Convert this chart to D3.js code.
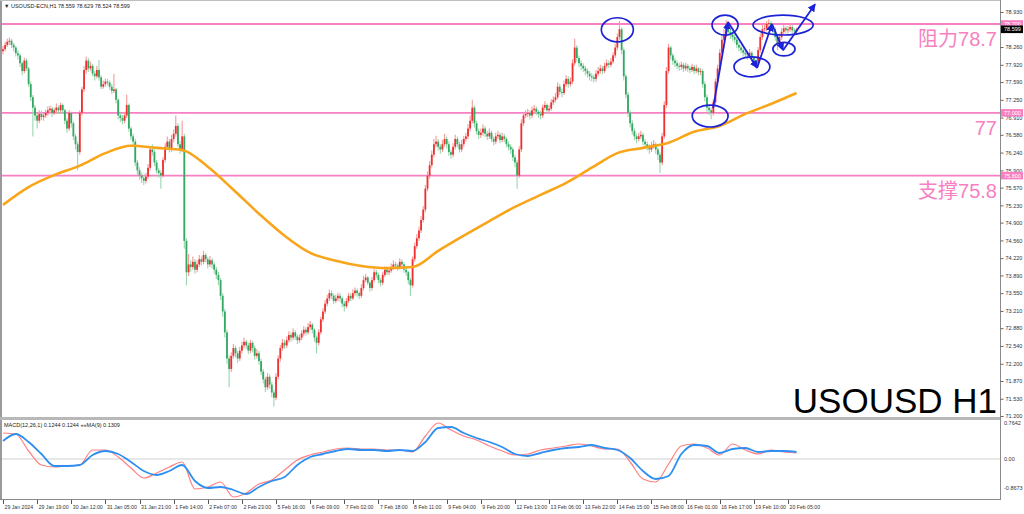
<!DOCTYPE html>
<html><head><meta charset="utf-8">
<script src="https://cdn.jsdelivr.net/npm/d3@7"></script>
<style>html,body{margin:0;padding:0;background:#fff;} svg{display:block;}</style>
</head><body>
<svg id="c" width="1024" height="514"></svg>
<script>
const headerText = "\u25BC USOUSD-ECN,H1  78.559 78.629 78.524 78.599";
const macdLegend = "MACD(12,26,1) 0.1244 0.1244  \u00AB\u00BBMA(9) 0.1309";
const titleText = "USOUSD H1";
const timeLabels = ["29 Jan 2024","29 Jan 19:00","30 Jan 12:00","31 Jan 05:00","31 Jan 21:00","1 Feb 14:00","2 Feb 07:00","2 Feb 23:00","5 Feb 16:00","6 Feb 09:00","7 Feb 02:00","7 Feb 18:00","8 Feb 11:00","9 Feb 04:00","9 Feb 20:00","12 Feb 13:00","13 Feb 06:00","13 Feb 22:00","14 Feb 15:00","15 Feb 08:00","16 Feb 01:00","16 Feb 17:00","19 Feb 10:00","20 Feb 05:00"];
const barsPerTimeLabel = 16;
const priceTicks = [78.930,78.590,78.260,77.920,77.590,77.250,76.910,76.580,76.240,75.900,75.570,75.230,74.900,74.560,74.220,73.890,73.550,73.210,72.880,72.540,72.200,71.870,71.530,71.200];
const macdTickLabels = ["0.7642","0.00","-0.8673"];

const firstOpen = 78.18;
const closes = [
78.22,78.30,78.36,78.38,78.30,78.25,78.14,78.10,77.95,77.80,
78.00,77.85,77.55,77.30,77.10,76.95,76.85,76.98,76.92,76.95,
77.00,77.05,77.08,77.00,77.05,77.10,77.05,77.15,77.05,76.85,
76.70,77.00,76.80,76.55,76.40,76.25,77.00,77.45,77.82,78.00,
77.85,77.90,77.75,77.70,77.82,77.68,77.50,77.55,77.60,77.58,
77.50,77.42,77.45,77.25,76.95,76.90,76.85,76.95,77.15,76.70,
76.55,76.45,76.05,75.90,75.80,75.75,75.70,75.78,75.95,76.30,
76.25,76.05,75.90,75.85,75.80,76.10,76.35,76.45,76.30,76.50,
76.60,76.75,76.40,76.30,76.55,74.55,73.95,74.10,74.05,74.15,
74.00,74.10,74.20,74.15,74.28,74.20,74.10,74.18,74.10,74.00,
73.90,73.80,73.50,73.20,72.80,72.30,72.10,72.35,72.50,72.40,
72.30,72.45,72.55,72.62,72.55,72.45,72.60,72.50,72.35,72.40,
72.25,72.05,71.90,71.75,71.95,71.80,71.65,71.55,71.95,72.30,
72.50,72.60,72.55,72.65,72.75,72.70,72.80,72.72,72.65,72.70,
72.78,72.85,72.80,72.90,72.95,72.85,72.70,72.60,72.80,73.05,
73.20,73.35,73.45,73.55,73.50,73.40,73.45,73.50,73.45,73.35,
73.30,73.40,73.50,73.45,73.55,73.60,73.55,73.50,73.65,73.80,
73.85,73.75,73.65,73.80,73.95,73.90,73.80,73.75,73.90,74.00,
73.95,73.98,74.05,74.10,74.08,74.05,74.15,74.10,74.00,73.95,
73.80,73.70,74.20,74.45,74.60,74.75,74.95,75.15,75.55,75.80,
76.00,76.20,76.40,76.45,76.35,76.30,76.40,76.50,76.40,76.25,
76.20,76.35,76.50,76.40,76.30,76.40,76.50,76.55,76.70,76.85,
77.10,76.80,76.65,76.58,76.62,76.70,76.60,76.55,76.62,76.50,
76.45,76.55,76.58,76.48,76.55,76.50,76.40,76.35,76.30,76.15,
76.05,75.80,76.30,76.80,76.95,76.98,77.00,76.95,77.05,77.08,
77.02,76.98,76.95,77.10,77.15,77.05,77.08,77.20,77.25,77.30,
77.50,77.40,77.38,77.55,77.65,77.55,77.60,77.95,78.25,78.05,
77.95,77.90,77.85,77.80,77.75,77.70,77.68,77.65,77.75,77.80,
77.85,77.80,77.90,77.95,77.92,77.98,78.10,78.25,78.45,78.60,
78.20,77.70,77.35,77.00,76.80,76.65,76.55,76.50,76.55,76.58,
76.45,76.40,76.35,76.30,76.38,76.40,76.30,76.20,76.05,76.55,
77.15,77.80,78.25,78.10,78.00,77.95,77.90,77.88,77.92,77.85,
77.90,77.85,77.82,77.88,77.80,77.85,77.78,77.80,77.55,77.30,
77.10,77.05,77.00,77.20,77.60,77.85,78.15,78.40,78.50,78.65,
78.55,78.50,78.45,78.40,78.30,78.25,78.20,78.15,78.12,78.10,
78.15,78.05,77.98,77.92,78.20,78.45,78.60,78.62,78.70,78.72,
78.65,78.60,78.45,78.30,78.45,78.55,78.62,78.58,78.60,78.64,
78.58,78.56,78.60];
const highs = [
78.28,78.36,78.42,78.44,78.42,78.34,78.28,78.20,78.14,77.98,
78.06,78.04,77.88,77.60,77.34,77.15,77.00,77.05,77.04,77.00,
77.06,77.12,77.14,77.12,77.10,77.18,77.14,77.20,77.18,77.08,
76.90,77.05,77.02,76.84,76.60,76.45,77.05,77.50,77.90,78.08,
78.05,77.98,77.94,77.80,77.90,78.01,77.72,77.62,77.66,77.65,
77.62,77.55,77.75,77.48,77.28,77.00,76.96,77.02,77.35,77.18,
76.74,76.60,76.50,76.10,75.96,75.86,75.80,75.85,76.02,76.36,
76.40,76.30,76.10,75.95,75.90,76.15,76.42,76.55,76.50,76.58,
76.68,76.95,76.80,76.46,76.85,76.60,74.60,74.30,74.18,74.25,
74.20,74.18,74.28,74.25,74.36,74.32,74.24,74.26,74.22,74.14,
74.05,73.96,73.84,73.55,73.25,72.85,72.36,72.42,72.58,72.55,
72.45,72.52,72.62,72.70,72.66,72.60,72.66,72.64,72.55,72.48,
72.45,72.30,72.10,71.95,72.02,72.00,71.85,71.70,72.02,72.36,
72.56,72.68,72.66,72.72,72.82,72.80,72.88,72.84,72.76,72.76,
72.84,72.92,72.90,72.98,73.02,72.98,72.88,72.74,72.86,73.10,
73.26,73.42,73.52,73.62,73.60,73.54,73.52,73.56,73.55,73.48,
73.40,73.46,73.56,73.55,73.62,73.66,73.64,73.58,73.72,73.88,
73.92,73.88,73.78,73.86,74.02,74.00,73.94,73.84,73.96,74.06,
74.05,74.04,74.12,74.18,74.15,74.12,74.22,74.20,74.14,74.04,
73.98,73.84,74.25,74.52,74.68,74.82,75.02,75.22,75.62,75.88,
76.08,76.28,76.50,76.56,76.50,76.40,76.48,76.60,76.55,76.45,
76.30,76.42,76.58,76.55,76.45,76.48,76.56,76.62,76.78,76.95,
77.25,77.14,76.85,76.70,76.70,76.78,76.75,76.66,76.70,76.66,
76.55,76.62,76.66,76.62,76.62,76.60,76.54,76.45,76.40,76.34,
76.20,76.10,76.36,76.88,77.02,77.05,77.08,77.05,77.12,77.15,
77.12,77.06,77.04,77.16,77.22,77.18,77.15,77.26,77.32,77.38,
77.58,77.55,77.46,77.62,77.72,77.70,77.68,78.02,78.42,78.30,
78.10,78.00,77.95,77.90,77.85,77.80,77.76,77.74,77.82,77.88,
77.92,77.90,77.96,78.02,78.00,78.05,78.16,78.32,78.52,78.76,
78.64,78.25,77.75,77.40,77.05,76.86,76.70,76.60,76.62,76.66,
76.62,76.50,76.45,76.40,76.45,76.48,76.44,76.34,76.25,76.62,
77.22,77.88,78.32,78.28,78.14,78.05,78.00,77.96,77.98,77.96,
77.96,77.94,77.90,77.94,77.92,77.92,77.88,77.86,77.84,77.60,
77.35,77.16,77.10,77.26,77.66,77.92,78.22,78.48,78.60,78.78,
78.70,78.62,78.56,78.52,78.45,78.36,78.30,78.26,78.22,78.18,
78.22,78.18,78.08,78.02,78.26,78.52,78.68,78.70,78.76,78.79,
78.76,78.70,78.64,78.50,78.52,78.62,78.68,78.66,78.66,78.70,
78.68,78.62,78.63];
const lows = [
78.12,78.18,78.26,78.30,78.24,78.18,78.08,78.02,77.88,77.72,
77.76,77.80,77.50,77.22,76.55,76.85,76.70,76.80,76.86,76.85,
76.90,76.95,77.00,76.92,76.96,77.00,76.98,77.00,76.98,76.78,
76.62,76.66,76.72,76.48,76.30,75.90,76.20,76.95,77.40,77.75,
77.78,77.80,77.70,77.62,77.66,77.62,77.45,77.46,77.50,77.52,
77.44,77.36,77.38,77.18,76.88,76.82,76.78,76.80,76.90,76.64,
76.48,76.38,75.98,75.82,75.72,75.66,75.62,75.65,75.74,75.90,
76.18,75.98,75.84,75.76,75.55,75.76,76.05,76.30,76.24,76.26,
76.44,76.55,76.34,76.22,76.25,74.40,73.70,73.88,73.96,74.00,
73.92,73.95,74.05,74.08,74.10,74.14,74.02,74.05,74.02,73.92,
73.82,73.70,73.42,73.10,72.70,72.20,71.75,72.04,72.30,72.32,
72.22,72.25,72.40,72.50,72.48,72.38,72.40,72.42,72.28,72.30,
72.18,71.98,71.82,71.66,71.70,71.72,71.56,71.38,71.50,71.90,
72.24,72.45,72.48,72.50,72.60,72.62,72.65,72.66,72.58,72.60,
72.65,72.72,72.74,72.76,72.85,72.78,72.62,72.40,72.55,72.76,
73.00,73.15,73.30,73.40,73.44,73.34,73.36,73.40,73.38,73.28,
73.20,73.26,73.36,73.40,73.42,73.50,73.48,73.44,73.46,73.60,
73.76,73.70,73.58,73.60,73.76,73.84,73.74,73.68,73.70,73.86,
73.90,73.90,73.94,74.00,74.02,73.98,74.00,74.04,73.94,73.88,
73.72,73.50,73.66,74.15,74.40,74.55,74.70,74.90,75.10,75.50,
75.74,75.95,76.15,76.34,76.28,76.22,76.25,76.35,76.32,76.18,
76.12,76.15,76.30,76.34,76.24,76.25,76.35,76.45,76.50,76.65,
76.80,76.72,76.58,76.50,76.52,76.56,76.54,76.48,76.50,76.44,
76.38,76.40,76.50,76.42,76.44,76.44,76.34,76.28,76.22,76.08,
75.96,75.55,75.76,76.25,76.75,76.90,76.92,76.88,76.90,77.00,
76.96,76.90,76.88,76.90,77.05,76.98,77.00,77.04,77.15,77.20,
77.26,77.34,77.30,77.34,77.50,77.48,77.50,77.55,77.90,77.98,
77.88,77.82,77.78,77.72,77.68,77.62,77.60,77.58,77.60,77.70,
77.75,77.74,77.76,77.85,77.86,77.88,77.94,78.05,78.20,78.40,
78.12,77.62,77.28,76.92,76.72,76.58,76.48,76.42,76.45,76.50,
76.38,76.32,76.28,76.22,76.25,76.32,76.22,76.10,75.85,76.00,
76.50,77.10,77.75,78.02,77.92,77.88,77.84,77.80,77.82,77.78,
77.80,77.78,77.76,77.78,77.74,77.76,77.72,77.72,77.48,77.22,
77.02,76.96,76.88,76.95,77.15,77.55,77.80,78.10,78.35,78.45,
78.48,78.42,78.38,78.34,78.24,78.18,78.14,78.08,78.05,78.02,
78.04,77.98,77.90,77.86,77.88,78.15,78.40,78.54,78.56,78.64,
78.58,78.52,78.38,78.20,78.26,78.40,78.50,78.52,78.52,78.55,
78.52,78.50,78.52];

const maBarStep = 12;
const maValues = [75.24,75.58,75.81,75.99,76.23,76.37,76.33,76.29,75.97,75.53,75.07,74.65,74.32,74.17,74.07,74.03,74.05,74.36,74.65,74.93,75.20,75.43,75.66,75.95,76.23,76.33,76.43,76.64,76.75,76.98,77.17,77.38];

const macdBarStep = 6;
const macdMain = [0.52,0.50,0.16,-0.12,-0.16,-0.14,-0.12,0.18,0.18,0.04,-0.18,-0.38,-0.28,-0.16,-0.06,-0.60,-0.56,-0.46,-0.76,-0.68,-0.50,-0.42,-0.22,-0.02,0.08,0.14,0.20,0.22,0.20,0.20,0.18,0.18,0.14,0.46,0.72,0.58,0.46,0.38,0.26,0.16,0.08,0.10,0.18,0.22,0.26,0.30,0.26,0.20,0.20,-0.06,-0.40,-0.46,-0.10,0.26,0.30,0.22,0.08,0.30,0.18,0.10,0.18,0.14,0.12];
const macdSignal = [0.36,0.50,0.34,0.10,-0.14,-0.14,-0.12,0.08,0.16,0.10,-0.06,-0.24,-0.32,-0.24,-0.12,-0.44,-0.58,-0.56,-0.62,-0.70,-0.56,-0.44,-0.36,-0.12,0.04,0.10,0.16,0.20,0.18,0.18,0.16,0.18,0.16,0.34,0.62,0.64,0.52,0.42,0.34,0.24,0.10,0.06,0.12,0.18,0.22,0.24,0.28,0.22,0.18,0.02,-0.24,-0.40,-0.34,0.10,0.28,0.26,0.12,0.20,0.22,0.14,0.16,0.16,0.14];

const levels = [78.7, 77.0, 75.8];
const levelLabels = ["阻力78.7", "77", "支撑75.8"];
const levelAxisLabels = ["78.700", "77.000", "75.800"];
const lastPrice = 78.599;

// annotations in [bar, price] space: ellipses [bar, price, barRadius, priceRadius]
const ellipses = [[288,78.59,7.5,0.23],[338.5,78.68,6.1,0.19],[331.5,76.94,8.4,0.21],[351.1,77.88,8.4,0.19],[365.7,78.68,14.1,0.19],[366.1,78.22,5.2,0.13]];
const arrowPoints = [[332.9,77.09],[339.9,78.74],[353.5,77.86],[360.5,78.70],[365.7,78.20],[380.7,79.08]];

// ---------- drawing ----------
const svg = d3.select("#c");
const W = 1024, H = 514;
const plotR = 1000, mainBottom = 417, macdTop = 420, macdBottom = 499;
const pink = "#f77fc2", blue = "#1c22d6";
const upBody = "#ef3030", upWick = "#f39a9a", dnBody = "#34a862", dnWick = "#9ad6b0";
const axisFont = "Liberation Sans, Arial, sans-serif";

const x = d3.scaleLinear().domain([0, (timeLabels.length - 1) * barsPerTimeLabel]).range([3, 788]);
const y = d3.scaleLinear().domain([71.2, 78.93]).range([416, 12]);
const my = d3.scaleLinear().domain([-0.8, 0.8]).range([499, 419]);

const defs = svg.append("defs");
defs.append("clipPath").attr("id","mainClip").append("rect").attr("x",0).attr("y",0).attr("width",plotR).attr("height",mainBottom);
defs.append("clipPath").attr("id","macdClip").append("rect").attr("x",0).attr("y",macdTop).attr("width",plotR).attr("height",macdBottom-macdTop);
defs.append("marker").attr("id","arrow").attr("viewBox","0 0 10 10").attr("refX",9).attr("refY",5)
  .attr("markerWidth",8).attr("markerHeight",8).attr("markerUnits","userSpaceOnUse").attr("orient","auto")
  .append("path").attr("d","M0,0L10,5L0,10z").attr("fill",blue);

svg.append("rect").attr("width",W).attr("height",H).attr("fill","#fff");

const main = svg.append("g").attr("clip-path","url(#mainClip)");

// level lines
main.selectAll("line.level").data(levels).join("line").attr("class","level")
  .attr("x1",0).attr("x2",plotR).attr("y1",d=>y(d)).attr("y2",d=>y(d))
  .attr("stroke",pink).attr("stroke-width",1.8);

// candles
const bars = closes.map((c,i)=>({i, o: i===0?firstOpen:closes[i-1], c, h: highs[i], l: lows[i]}));
const cg = main.append("g");
cg.selectAll("line.wick").data(bars).join("line").attr("class","wick")
  .attr("x1",d=>x(d.i)).attr("x2",d=>x(d.i))
  .attr("y1",d=>y(Math.max(d.h,d.o,d.c))).attr("y2",d=>y(Math.min(d.l,d.o,d.c)))
  .attr("stroke",d=>d.c>=d.o?upWick:dnWick).attr("stroke-width",1.1);
cg.selectAll("rect.body").data(bars).join("rect").attr("class","body")
  .attr("x",d=>x(d.i)-0.9).attr("width",1.8)
  .attr("y",d=>y(Math.max(d.o,d.c)))
  .attr("height",d=>Math.max(1, Math.abs(y(d.o)-y(d.c))))
  .attr("fill",d=>d.c>=d.o?upBody:dnBody);

// moving average
const maData = maValues.map((v,k)=>[k*maBarStep, v]);
main.append("path").datum(maData)
  .attr("d", d3.line().x(d=>x(d[0])).y(d=>y(d[1])).curve(d3.curveMonotoneX))
  .attr("fill","none").attr("stroke","#f9a51a").attr("stroke-width",2.6);

// annotations
const ag = main.append("g");
ag.selectAll("ellipse").data(ellipses).join("ellipse")
  .attr("cx",d=>x(d[0])).attr("cy",d=>y(d[1]))
  .attr("rx",d=>x(d[0]+d[2])-x(d[0])).attr("ry",d=>y(d[1]-d[3])-y(d[1]))
  .attr("fill","none").attr("stroke",blue).attr("stroke-width",1.7);
const segs = d3.pairs(arrowPoints);
ag.selectAll("line.arr").data(segs).join("line").attr("class","arr")
  .attr("x1",d=>x(d[0][0])).attr("y1",d=>y(d[0][1]))
  .attr("x2",d=>x(d[1][0])).attr("y2",d=>y(d[1][1]))
  .attr("stroke",blue).attr("stroke-width",1.8).attr("marker-end","url(#arrow)");

// level text labels
svg.selectAll("text.lvl").data(levels).join("text").attr("class","lvl")
  .attr("x",997).attr("y",d=>y(d)+22).attr("text-anchor","end")
  .attr("font-family","Liberation Sans, Arial, 'Noto Sans CJK SC', sans-serif")
  .attr("font-size",20).attr("fill",pink)
  .text((d,i)=>levelLabels[i]);

// big title
svg.append("text").attr("x",997).attr("y",413).attr("text-anchor","end")
  .attr("font-family","Liberation Sans, Arial, sans-serif").attr("font-size",35).attr("fill","#000")
  .text(titleText);

// header
svg.append("text").attr("x",4).attr("y",8).attr("font-family",axisFont).attr("font-size",5.5).attr("fill","#222").text(headerText);

// MACD panel
const mg = svg.append("g").attr("clip-path","url(#macdClip)");
mg.append("line").attr("x1",0).attr("x2",plotR).attr("y1",my(0)).attr("y2",my(0)).attr("stroke","#cfcfcf").attr("stroke-width",1);
const mline = d3.line().x(d=>x(d[0])).y(d=>my(d[1])).curve(d3.curveMonotoneX);
mg.append("path").datum(macdMain.map((v,k)=>[k*macdBarStep, v])).attr("d",mline)
  .attr("fill","none").attr("stroke","#ff8080").attr("stroke-width",1.2);
mg.append("path").datum(macdSignal.map((v,k)=>[k*macdBarStep, v])).attr("d",mline)
  .attr("fill","none").attr("stroke","#2e8ff2").attr("stroke-width",1.8);
svg.append("text").attr("x",4).attr("y",427).attr("font-family",axisFont).attr("font-size",5.5).attr("fill","#222").text(macdLegend);

// frames
svg.append("rect").attr("x",0).attr("y",0).attr("width",2).attr("height",macdBottom).attr("fill","#9a9a9a");
svg.append("line").attr("x1",0).attr("x2",plotR).attr("y1",0.5).attr("y2",0.5).attr("stroke","#bdbdbd");
svg.append("rect").attr("x",0).attr("y",mainBottom).attr("width",plotR).attr("height",macdTop-mainBottom).attr("fill","#b8b8b8");
svg.append("line").attr("x1",0).attr("x2",plotR).attr("y1",macdBottom+0.5).attr("y2",macdBottom+0.5).attr("stroke","#8a8a8a");
svg.append("line").attr("x1",plotR+0.5).attr("x2",plotR+0.5).attr("y1",0).attr("y2",macdBottom+1).attr("stroke","#8a8a8a");

// price axis
const pa = svg.append("g").attr("transform",`translate(${plotR+0.5},0)`)
  .call(d3.axisRight(y).tickValues(priceTicks).tickFormat(d3.format(".3f")).tickSize(3).tickPadding(2));
pa.select(".domain").remove();
pa.selectAll("text").attr("font-family",axisFont).attr("font-size",5.5).attr("fill","#333");
pa.selectAll("line").attr("stroke","#666");

// axis value boxes
const boxes = levels.map((v,i)=>({v, t: levelAxisLabels[i], fill: pink})).concat([{v:lastPrice, t:d3.format(".3f")(lastPrice), fill:"#000"}]);
const bg = svg.selectAll("g.box").data(boxes).join("g").attr("class","box")
  .attr("transform",d=>`translate(${plotR+1},${y(d.v)})`);
bg.append("rect").attr("x",0).attr("y",-3.8).attr("width",22).attr("height",7.6).attr("fill",d=>d.fill);
bg.append("text").attr("x",3).attr("y",2.1).attr("font-family",axisFont).attr("font-size",5.5).attr("fill","#fff").text(d=>d.t);

// macd axis labels
const macdLabelY = [macdTop+5, my(0)+2, macdBottom-9];
svg.selectAll("text.mlab").data(macdTickLabels).join("text").attr("class","mlab")
  .attr("x",plotR+4).attr("y",(d,i)=>macdLabelY[i]).attr("font-family",axisFont).attr("font-size",5.5).attr("fill","#333").text(d=>d);

// time axis
const tg = svg.append("g");
const tdata = timeLabels.map((t,k)=>({t, b:k*barsPerTimeLabel}));
tg.selectAll("line").data(tdata).join("line")
  .attr("x1",d=>Math.round(x(d.b))+0.5).attr("x2",d=>Math.round(x(d.b))+0.5)
  .attr("y1",macdBottom+1).attr("y2",macdBottom+5).attr("stroke","#555");
tg.selectAll("text").data(tdata).join("text")
  .attr("x",d=>x(d.b)+1.5).attr("y",509).attr("font-family",axisFont).attr("font-size",5.2).attr("fill","#333").text(d=>d.t);
</script>
</body></html>
